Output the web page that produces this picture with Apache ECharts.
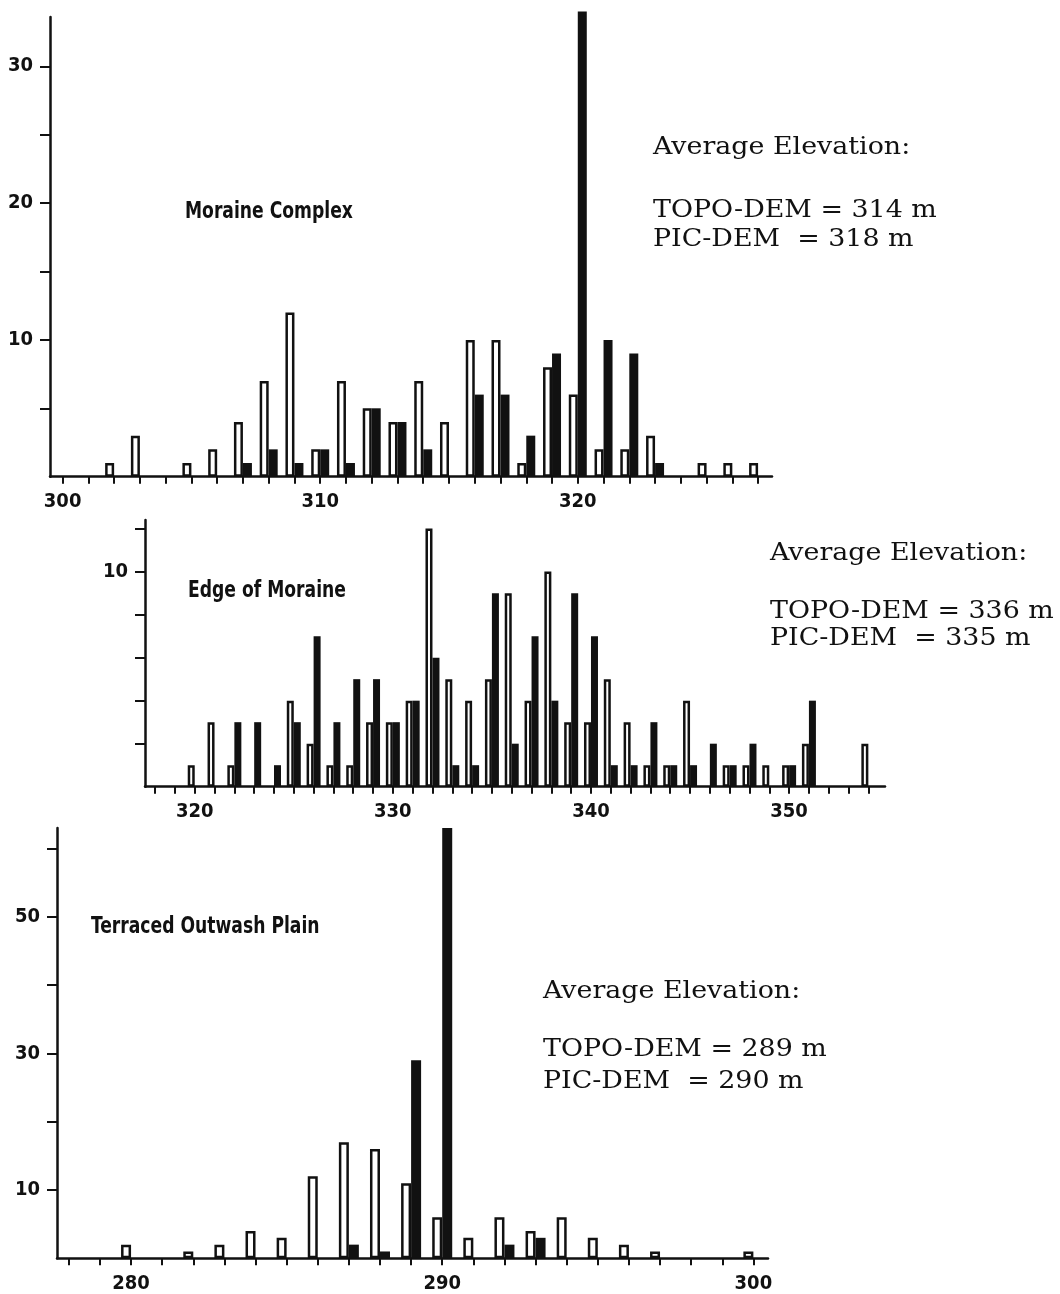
<!DOCTYPE html>
<html>
<head>
<meta charset="utf-8">
<script src="https://cdn.jsdelivr.net/npm/echarts@6/dist/echarts.min.js"></script>
<style>
  html, body { margin: 0; padding: 0; background: #fff; }
  #main { width: 1060px; height: 1294px; }
</style>
</head>
<body>
<div id="main"></div>
<script>
// Moraine Complex: elevation bins (m) and counts
var moraineBins = [302, 303, 305, 306, 307, 308, 309, 310, 311, 312, 313, 314, 315, 316, 317, 318, 319, 320, 321, 322, 323, 325, 326, 327];
var moraineTopo = [1, 3, 1, 2, 4, 7, 12, 2, 7, 5, 4, 7, 4, 10, 10, 1, 8, 6, 2, 2, 3, 1, 1, 1];
var morainePic  = [0, 0, 0, 0, 1, 2, 1, 2, 1, 5, 4, 2, 0, 6, 6, 3, 9, 34, 10, 9, 1, 0, 0, 0];

// Edge of Moraine
var edgeBins = [320, 321, 322, 323, 324, 325, 326, 327, 328, 329, 330, 331, 332, 333, 334, 335, 336, 337,
                338, 339, 340, 341, 342, 343, 344, 345, 346, 347, 348, 349, 350, 351, 354];
var edgeTopo = [1, 3, 1, 0, 0, 4, 2, 1, 1, 3, 3, 4, 12, 5, 4, 5, 9, 4, 10, 3, 3, 5, 3, 1, 1, 4, 0, 1, 1, 1, 1, 2, 2];
var edgePic  = [0, 0, 3, 3, 1, 3, 7, 3, 5, 5, 3, 4, 6, 1, 1, 9, 2, 7, 4, 9, 7, 1, 1, 3, 1, 1, 2, 1, 2, 0, 1, 4, 0];

// Terraced Outwash Plain
var outwashBins = [280, 282, 283, 284, 285, 286, 287, 288, 289, 290, 291, 292, 293, 294, 295, 296, 297, 300];
var outwashTopo = [2, 1, 2, 4, 3, 12, 17, 16, 11, 6, 3, 6, 4, 6, 3, 2, 1, 1];
var outwashPic  = [0, 0, 0, 0, 0, 0, 2, 1, 29, 63, 0, 2, 3, 0, 0, 0, 0, 0];

// tick and label values
var moraineXTicks = [];
for (var v = 300; v <= 327; v++) moraineXTicks.push(v);
var moraineXLabels = [300, 310, 320];
var moraineYTicks = [5, 10, 15, 20, 25, 30];
var moraineYLabels = [10, 20, 30];

var edgeXTicks = [];
for (var v = 318; v <= 354; v++) edgeXTicks.push(v);
var edgeXLabels = [320, 330, 340, 350];
var edgeYTicks = [2, 4, 6, 8, 10, 12];
var edgeYLabels = [10];

var outwashXTicks = [];
for (var v = 278; v <= 300; v++) outwashXTicks.push(v);
var outwashXLabels = [280, 290, 300];
var outwashYTicks = [10, 20, 30, 40, 50, 60];
var outwashYLabels = [10, 30, 50];

var narrow = "'DejaVu Sans Condensed', 'Liberation Sans', sans-serif";
var serif = "'DejaVu Serif', 'Liberation Serif', serif";
var ink = '#111';

function pairs(bins, counts) {
    var out = [];
    for (var i = 0; i < bins.length; i++) {
        if (counts[i] > 0) out.push([bins[i], counts[i]]);
    }
    return out;
}

function xAxisFor(idx, min, max, ticks, labels) {
    return {
        type: 'value', gridIndex: idx, min: min, max: max,
        splitLine: { show: false },
        axisLine: { lineStyle: { color: ink, width: 2.5 } },
        axisTick: { customValues: ticks, length: 7, lineStyle: { color: ink, width: 2 } },
        axisLabel: { customValues: labels, margin: 15, color: ink, fontFamily: narrow, fontWeight: 'bold', fontSize: 20 }
    };
}

function yAxisFor(idx, max, ticks, labels) {
    return {
        type: 'value', gridIndex: idx, min: 0, max: max,
        splitLine: { show: false },
        axisLine: { show: true, lineStyle: { color: ink, width: 2.5 } },
        axisTick: { show: true, customValues: ticks, length: 10, lineStyle: { color: ink, width: 2 } },
        axisLabel: { customValues: labels, margin: 17, color: ink, fontFamily: narrow, fontWeight: 'bold', fontSize: 20 }
    };
}

function barPair(idx, bins, topo, pic, width) {
    return [{
        type: 'bar', xAxisIndex: idx, yAxisIndex: idx, clip: false,
        barWidth: width, barGap: '0%',
        itemStyle: { color: '#fff', borderColor: ink, borderWidth: 2.5 },
        data: pairs(bins, topo)
    }, {
        type: 'bar', xAxisIndex: idx, yAxisIndex: idx, clip: false,
        barWidth: width, barGap: '0%',
        itemStyle: { color: ink },
        data: pairs(bins, pic)
    }];
}

function text(x, baseline, str, family, size, weight, sx) {
    return {
        type: 'text', x: x, y: baseline - 0.35 * size, scaleX: sx || 1,
        style: {
            text: str, fill: ink, align: 'left', verticalAlign: 'middle',
            font: (weight || 'normal') + ' ' + size + 'px ' + family
        }
    };
}

function note(x, baseline, str) {
    return text(x, baseline, str, serif, 24, 'normal', 1.12);
}

function title(x, baseline, str) {
    return text(x, baseline, str, narrow, 23, 'bold', 0.83);
}

var myChart = echarts.init(document.getElementById('main'));
option = {
    backgroundColor: '#fff',
    animation: false,
    grid: [
        { left: 50, top: 17, width: 722, height: 459.7, outerBoundsMode: 'none' },
        { left: 145, top: 520, width: 740, height: 266.7, outerBoundsMode: 'none' },
        { left: 57, top: 828, width: 711, height: 430.3, outerBoundsMode: 'none' }
    ],
    xAxis: [
        xAxisFor(0, 299.51, 327.54, moraineXTicks, moraineXLabels),
        xAxisFor(1, 317.49, 354.84, edgeXTicks, edgeXLabels),
        xAxisFor(2, 277.62, 300.47, outwashXTicks, outwashXLabels)
    ],
    yAxis: [
        yAxisFor(0, 33.6, moraineYTicks, moraineYLabels),
        yAxisFor(1, 12.4, edgeYTicks, edgeYLabels),
        yAxisFor(2, 63, outwashYTicks, outwashYLabels)
    ],
    series: [].concat(
        barPair(0, moraineBins, moraineTopo, morainePic, 9),
        barPair(1, edgeBins, edgeTopo, edgePic, 7),
        barPair(2, outwashBins, outwashTopo, outwashPic, 10)
    ),
    graphic: [
        title(185, 220, 'Moraine Complex'),
        note(653, 156, 'Average Elevation:'),
        note(653, 219, 'TOPO-DEM = 314 m'),
        note(653, 248, 'PIC-DEM  = 318 m'),

        title(188, 599, 'Edge of Moraine'),
        note(770, 562, 'Average Elevation:'),
        note(770, 620, 'TOPO-DEM = 336 m'),
        note(770, 647, 'PIC-DEM  = 335 m'),

        title(91, 935, 'Terraced Outwash Plain'),
        note(543, 1000, 'Average Elevation:'),
        note(543, 1058, 'TOPO-DEM = 289 m'),
        note(543, 1090, 'PIC-DEM  = 290 m')
    ]
};

myChart.setOption(option);
</script>
</body>
</html>
